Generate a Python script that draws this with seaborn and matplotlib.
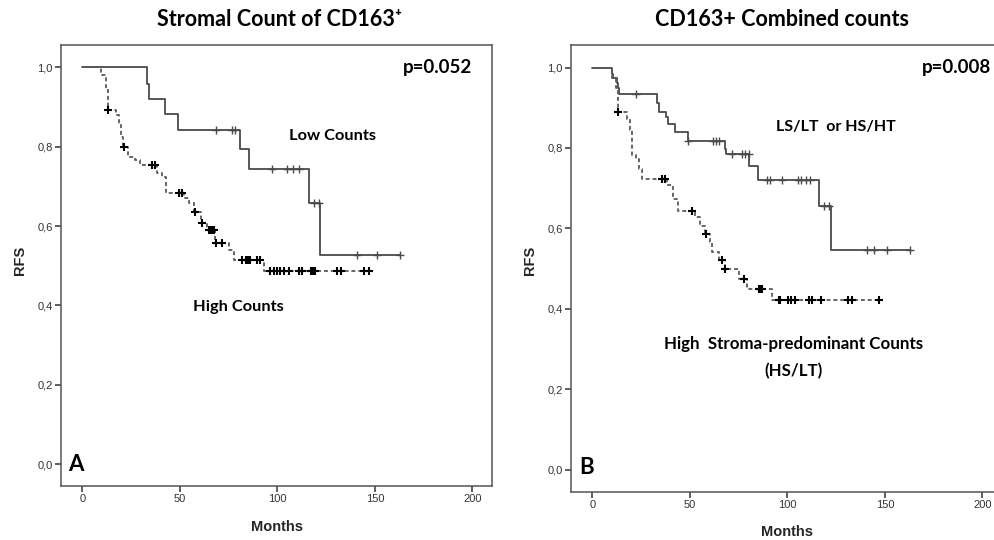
import numpy as np
import pandas as pd
import seaborn as sns
import matplotlib.pyplot as plt

# panel A - stromal count of CD163+
low_a_t = [0, 33.0, 33.9, 42.1, 49.0, 81.0, 85.2, 116.0, 122.0, 163.0]
low_a_s = [1.0, 0.959, 0.920, 0.881, 0.841, 0.793, 0.743, 0.659, 0.528, 0.528]
low_a_cens = [68.5, 76.7, 78.0, 97.2, 104.9, 107.8, 111.2, 118.6, 121.1, 140.9, 150.8, 162.7]

high_a_t = [0, 9.6, 12.0, 13.0, 17.1, 18.5, 19.9, 21.0, 23.6, 27.0, 29.6, 38.2, 40.7, 42.8,
            51.9, 54.4, 57.0, 61.0, 63.8, 67.8, 75.0, 77.5, 93.0, 146.8]
high_a_s = [1.0, 0.980, 0.942, 0.892, 0.879, 0.854, 0.825, 0.798, 0.775, 0.766, 0.754, 0.733, 0.723, 0.684,
            0.670, 0.657, 0.636, 0.607, 0.590, 0.557, 0.540, 0.515, 0.486, 0.486]
high_a_cens = [13.0, 21.5, 35.6, 37.0, 49.6, 51.0, 57.5, 61.5, 65.0, 65.8, 66.5, 67.2, 68.5, 71.8,
               82.0, 84.0, 85.0, 86.0, 89.5, 91.2, 96.0, 98.0, 99.8, 101.5, 103.2, 105.8,
               111.0, 112.6, 117.0, 118.0, 119.0, 130.6, 132.6, 144.6, 146.8]

# panel B - combined counts
low_b_t = [0, 9.9, 10.7, 12.4, 13.3, 13.6, 33.0, 33.9, 37.7, 38.7, 42.1, 49.0, 67.8, 68.5,
           80.5, 85.0, 116.2, 122.2, 163.0]
low_b_s = [1.0, 0.984, 0.973, 0.961, 0.948, 0.933, 0.911, 0.890, 0.876, 0.859, 0.840, 0.817, 0.798, 0.784,
           0.755, 0.721, 0.655, 0.546, 0.546]
low_b_cens = [22.2, 49.2, 61.7, 63.4, 65.1, 71.6, 76.8, 78.1, 80.2, 89.6, 91.0, 97.4, 105.4, 106.8,
              109.4, 111.6, 118.8, 121.4, 140.8, 144.5, 151.0, 163.0]

high_b_t = [0, 10.0, 12.0, 12.9, 17.6, 19.3, 20.2, 22.2, 24.1, 25.3, 38.2, 41.1, 43.8, 52.4, 55.3,
            57.9, 60.5, 61.3, 64.8, 67.8, 75.0, 79.0, 92.2, 147.1]
high_b_s = [1.0, 0.975, 0.950, 0.890, 0.873, 0.844, 0.782, 0.773, 0.748, 0.723, 0.707, 0.673, 0.644, 0.628, 0.605,
            0.586, 0.565, 0.540, 0.521, 0.498, 0.474, 0.449, 0.421, 0.421]
high_b_cens = [13.0, 35.6, 37.0, 51.0, 58.2, 66.6, 68.0, 77.5, 85.3, 86.0, 86.7, 95.6, 96.1, 100.3,
               102.0, 103.7, 111.1, 112.8, 117.4, 130.8, 132.9, 147.1]

x_ticks = [0, 50, 100, 150, 200]
y_ticks = [0.0, 0.2, 0.4, 0.6, 0.8, 1.0]
y_ticklabels = ["0,0", "0,2", "0,4", "0,6", "0,8", "1,0"]

sns.set_style("white")
plt.rcParams['font.family'] = ['Liberation Sans Narrow', 'Liberation Sans', 'DejaVu Sans']

LINE = "#4a4a4a"


def step_value(times, surv, t):
    # survival level at time t for a right-continuous step curve
    i = np.searchsorted(times, t, side="right") - 1
    return surv[i]


def km_curve(ax, times, surv, cens, dashed):
    df = pd.DataFrame({"t": times, "s": surv})
    line = sns.lineplot(data=df, x="t", y="s", ax=ax, estimator=None, sort=False,
                        drawstyle="steps-post", color=LINE if not dashed else "#5a5a5a",
                        linewidth=1.3)
    if dashed:
        line.lines[-1].set_linestyle((0, (2.2, 1.6)))
    cdf = pd.DataFrame({"t": cens, "s": [step_value(times, surv, c) for c in cens]})
    sns.scatterplot(data=cdf, x="t", y="s", ax=ax, marker="+", color="black" if dashed else LINE,
                    s=26 if dashed else 32, linewidth=1.5 if dashed else 1.0, zorder=4)


def style_axes(ax):
    ax.set_xlim(-11, 210)
    ax.set_ylim(-0.055, 1.056)
    ax.set_xticks(x_ticks)
    ax.set_xticklabels([str(v) for v in x_ticks])
    ax.set_yticks(y_ticks)
    ax.set_yticklabels(y_ticklabels)
    ax.tick_params(axis="both", direction="out", length=4.5, width=1.1, color="#333333",
                   labelsize=8, labelcolor="#333333", pad=1.5,
                   bottom=True, left=True)
    for sp in ax.spines.values():
        sp.set_color("#555555")
        sp.set_linewidth(1.1)
    ax.set_xlabel("")
    ax.set_ylabel("")


fig = plt.figure(figsize=(9.95, 5.4), dpi=100)
ax_a = fig.add_axes([61 / 995, 1 - 486 / 540, 431 / 995, 441 / 540])
ax_b = fig.add_axes([571 / 995, 1 - 491.7 / 540, 431 / 995, 446.7 / 540])

km_curve(ax_a, low_a_t, low_a_s, low_a_cens, dashed=False)
km_curve(ax_a, high_a_t, high_a_s, high_a_cens, dashed=True)
km_curve(ax_b, low_b_t, low_b_s, low_b_cens, dashed=False)
km_curve(ax_b, high_b_t, high_b_s, high_b_cens, dashed=True)
style_axes(ax_a)
style_axes(ax_b)

lab = dict(family=["Lato", "DejaVu Sans"], fontweight="bold", color="black")

ax_a.text(200, 1.0, "p=0.052", ha="right", va="center", fontsize=13.5, **lab)
ax_a.text(128, 0.827, "Low Counts", ha="center", va="center", fontsize=11.8, **lab)
ax_a.text(80, 0.397, "High Counts", ha="center", va="center", fontsize=11.8, **lab)
ax_a.text(-7.5, -0.017, "A", ha="left", va="baseline", fontsize=16, **lab)

ax_b.text(204.5, 1.0, "p=0.008", ha="right", va="center", fontsize=13.5, **lab)
ax_b.text(125, 0.852, "LS/LT  or HS/HT", ha="center", va="center", fontsize=11.5, **lab)
ax_b.text(103, 0.312, "High  Stroma-predominant Counts", ha="center", va="center", fontsize=12.2, **lab)
ax_b.text(103, 0.244, "(HS/LT)", ha="center", va="center", fontsize=12.2, **lab)
ax_b.text(-6.8, -0.01, "B", ha="left", va="baseline", fontsize=16, **lab)

fig.text(0.281, 1 - 19 / 540, "Stromal Count of CD163\u207a", ha="center", va="center",
         fontsize=15.5, **lab)
fig.text(0.786, 1 - 20 / 540, "CD163+ Combined counts", ha="center", va="center",
         fontsize=15.5, **lab)

axl = dict(family=["Liberation Sans", "DejaVu Sans"], fontweight="bold", fontsize=10.5)
fig.text(20 / 995, 1 - 260 / 540, "RFS", rotation=90, ha="center", va="center", **axl)
fig.text(530 / 995, 1 - 260 / 540, "RFS", rotation=90, ha="center", va="center", **axl)
fig.text(277 / 995, 1 - 527 / 540, "Months", ha="center", va="center", **axl)
fig.text(787 / 995, 1 - 531.7 / 540, "Months", ha="center", va="center", **axl)

fig.savefig("out.png", dpi=100)
